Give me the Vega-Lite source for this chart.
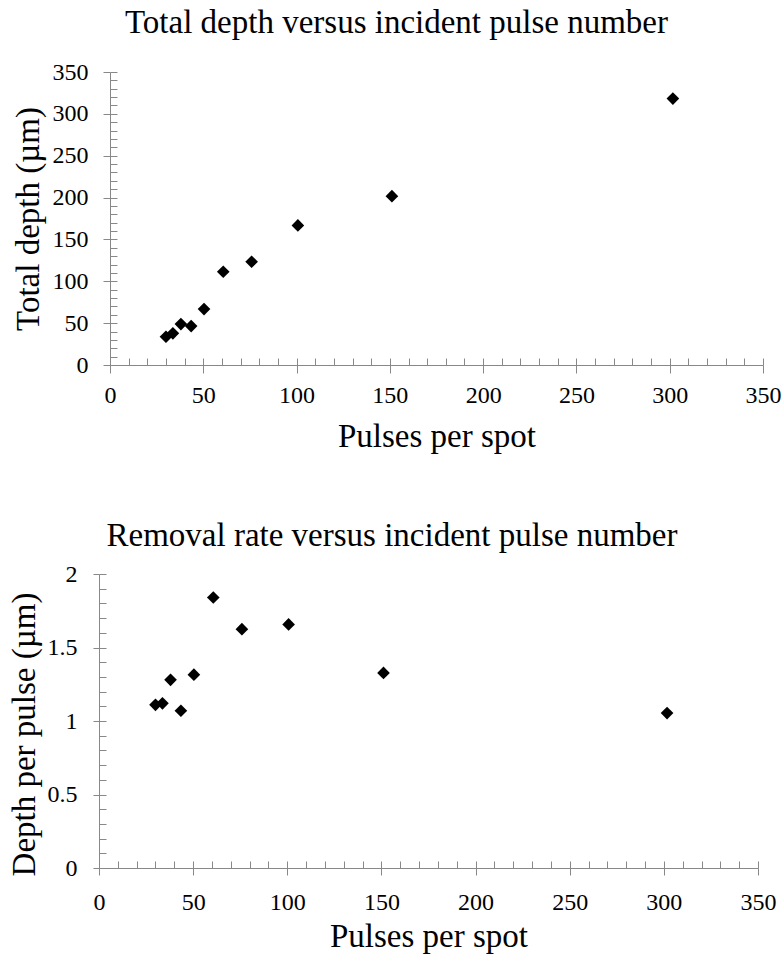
{
  "$schema": "https://vega.github.io/schema/vega-lite/v6.json",
  "padding": {"left": 7, "top": 7, "right": 2, "bottom": 2},
  "background": "white",
  "columns": 1,
  "spacing": 67,
  "config": {
    "view": {"stroke": null},
    "font": "Liberation Serif",
    "axis": {
      "labelFont": "Liberation Serif",
      "titleFont": "Liberation Serif",
      "labelFontSize": 24,
      "titleFontSize": 33,
      "titleFontWeight": "normal",
      "labelColor": "black",
      "titleColor": "black",
      "domainColor": "#888888",
      "tickColor": "#888888",
      "grid": false
    },
    "title": {"font": "Liberation Serif", "fontSize": 33, "fontWeight": "normal", "color": "black"}
  },
  "datasets": {
    "pts": [
      {"pulses": 30, "depth": 33.8, "rate": 1.11},
      {"pulses": 33.7, "depth": 37.8, "rate": 1.12},
      {"pulses": 38, "depth": 48.9, "rate": 1.28},
      {"pulses": 43.5, "depth": 46.5, "rate": 1.07},
      {"pulses": 50.4, "depth": 66.8, "rate": 1.315},
      {"pulses": 60.7, "depth": 111.4, "rate": 1.84},
      {"pulses": 75.9, "depth": 123.3, "rate": 1.625},
      {"pulses": 100.7, "depth": 166.7, "rate": 1.657},
      {"pulses": 151.1, "depth": 201.7, "rate": 1.327},
      {"pulses": 301.7, "depth": 318.2, "rate": 1.054}
    ]
  },
  "concat": [
    {
      "title": {"text": "Total depth versus incident pulse number", "anchor": "middle", "frame": "bounds", "offset": 20},
      "width": 664,
      "height": 293,
      "data": {"name": "pts"},
      "resolve": {"axis": {"x": "independent", "y": "independent"}},
      "layer": [
        {
          "mark": {"type": "point", "shape": "diamond", "filled": true, "color": "black", "size": 160, "opacity": 1},
          "encoding": {
            "x": {"field": "pulses", "type": "quantitative", "scale": {"domain": [0, 350], "nice": false, "range": [11, 664]},
              "axis": {"orient": "bottom", "title": "Pulses per spot", "values": [0, 50, 100, 150, 200, 250, 300, 350], "tickSize": 8, "labelPadding": 10, "titlePadding": 13, "labelFlush": false, "labelFont": "Liberation Serif", "labelFontSize": 24, "labelColor": "black"}},
            "y": {"field": "depth", "type": "quantitative", "scale": {"domain": [0, 350], "nice": false},
              "axis": {"orient": "left", "offset": -11, "title": "Total depth (µm)", "values": [0, 50, 100, 150, 200, 250, 300, 350], "tickSize": 7, "labelPadding": 15, "titlePadding": 7, "labelFlush": false, "labelFont": "Liberation Serif", "labelFontSize": 24, "labelColor": "black"}}
          }
        },
        {
          "mark": {"type": "point", "opacity": 0},
          "encoding": {
            "x": {"field": "pulses", "type": "quantitative", "scale": {"domain": [0, 350], "nice": false, "range": [11, 664]},
              "axis": {"orient": "bottom", "title": null, "labels": false, "domain": false, "tickSize": -7, "values": [0, 10, 20, 30, 40, 50, 60, 70, 80, 90, 100, 110, 120, 130, 140, 150, 160, 170, 180, 190, 200, 210, 220, 230, 240, 250, 260, 270, 280, 290, 300, 310, 320, 330, 340, 350]}},
            "y": {"field": "depth", "type": "quantitative", "scale": {"domain": [0, 350], "nice": false},
              "axis": {"orient": "left", "offset": -11, "title": null, "labels": false, "domain": false, "tickSize": -7, "values": [0, 10, 20, 30, 40, 50, 60, 70, 80, 90, 100, 110, 120, 130, 140, 150, 160, 170, 180, 190, 200, 210, 220, 230, 240, 250, 260, 270, 280, 290, 300, 310, 320, 330, 340, 350]}}
          }
        }
      ]
    },
    {
      "title": {"text": "Removal rate versus incident pulse number", "anchor": "middle", "frame": "bounds", "offset": 9},
      "width": 659,
      "height": 294,
      "data": {"name": "pts"},
      "resolve": {"axis": {"x": "independent", "y": "independent"}},
      "layer": [
        {
          "mark": {"type": "point", "shape": "diamond", "filled": true, "color": "black", "size": 160, "opacity": 1},
          "encoding": {
            "x": {"field": "pulses", "type": "quantitative", "scale": {"domain": [0, 350], "nice": false},
              "axis": {"orient": "bottom", "title": "Pulses per spot", "values": [0, 50, 100, 150, 200, 250, 300, 350], "tickSize": 7, "labelPadding": 15, "titlePadding": 6, "labelFlush": false, "labelFont": "Liberation Serif", "labelFontSize": 24, "labelColor": "black"}},
            "y": {"field": "rate", "type": "quantitative", "scale": {"domain": [0, 2], "nice": false},
              "axis": {"orient": "left", "title": "Depth per pulse (µm)", "titleY": 160, "values": [0, 0.5, 1, 1.5, 2], "tickSize": 6, "labelPadding": 16, "titlePadding": 6, "labelFlush": false, "labelExpr": "datum.value", "labelFont": "Liberation Serif", "labelFontSize": 24, "labelColor": "black"}}
          }
        },
        {
          "mark": {"type": "point", "opacity": 0},
          "encoding": {
            "x": {"field": "pulses", "type": "quantitative", "scale": {"domain": [0, 350], "nice": false},
              "axis": {"orient": "bottom", "title": null, "labels": false, "domain": false, "tickSize": -7, "values": [0, 10, 20, 30, 40, 50, 60, 70, 80, 90, 100, 110, 120, 130, 140, 150, 160, 170, 180, 190, 200, 210, 220, 230, 240, 250, 260, 270, 280, 290, 300, 310, 320, 330, 340, 350]}},
            "y": {"field": "rate", "type": "quantitative", "scale": {"domain": [0, 2], "nice": false},
              "axis": {"orient": "left", "title": null, "labels": false, "domain": false, "tickSize": -7, "values": [0, 0.1, 0.2, 0.3, 0.4, 0.5, 0.6, 0.7, 0.8, 0.9, 1, 1.1, 1.2, 1.3, 1.4, 1.5, 1.6, 1.7, 1.8, 1.9, 2]}}
          }
        }
      ]
    }
  ]
}
